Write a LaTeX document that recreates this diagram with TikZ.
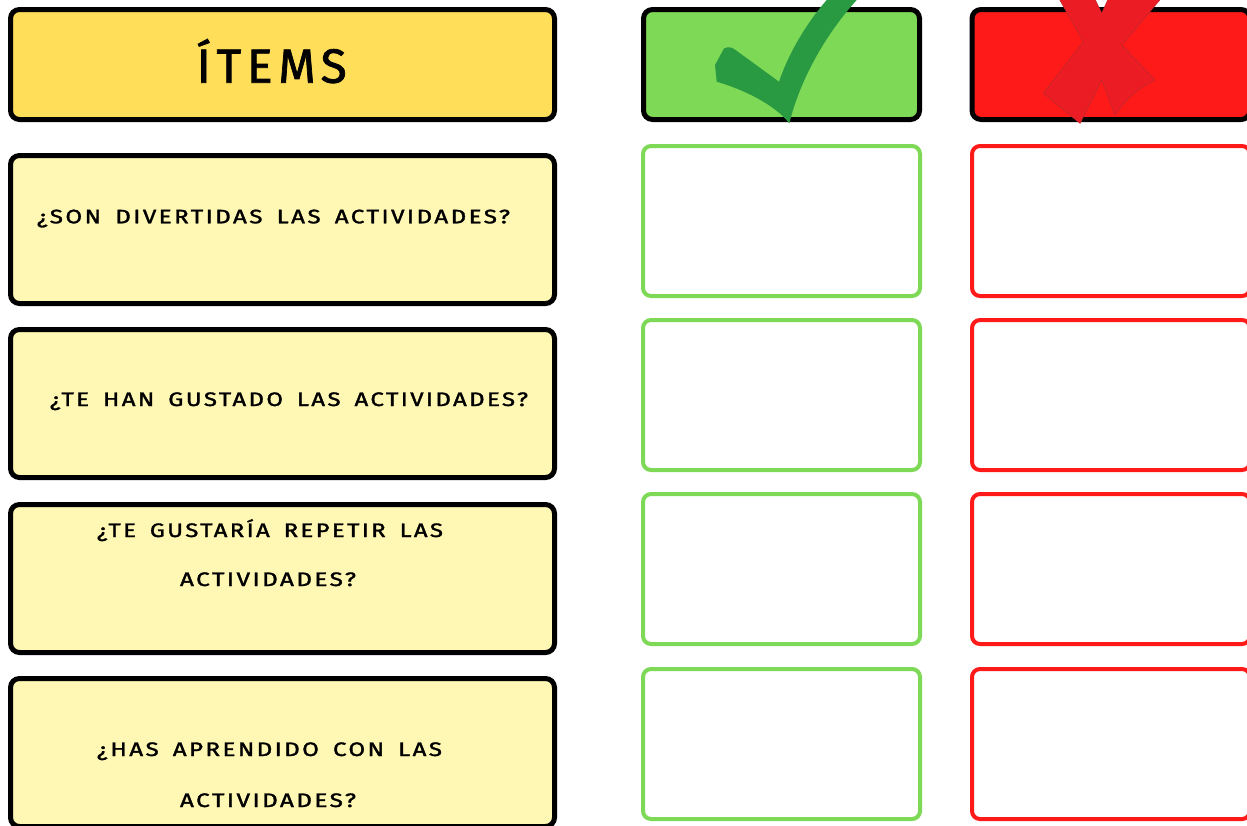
\documentclass[tikz,border=0pt]{standalone}
\usepackage{graphicx}
\usepackage{fontspec}
\setmainfont{Fira Sans}
\newfontfamily\qfont{Fira Sans}[LetterSpace=10,WordSpace=1.6,FakeBold=1.5]
\newfontfamily\hfont{Fira Sans}[LetterSpace=12,FakeBold=1.5]
\definecolor{hdr}{HTML}{FFDE59}
\definecolor{qfill}{HTML}{FFF7B4}
\definecolor{grn}{HTML}{7ED957}
\definecolor{redc}{HTML}{FF1A1A}
\definecolor{chk}{HTML}{2A9A42}
\definecolor{xred}{HTML}{EC1C24}
\definecolor{xline}{HTML}{C1272D}
\newcommand\fitq[2]{\resizebox{#1}{\height}{\fontsize{19.5}{20}\qfont #2}}
\begin{document}
\begin{tikzpicture}[x=1pt,y=-1pt,
  hbox/.style={draw=black,line width=5pt,rounded corners=9pt,inner sep=0pt,outer sep=0pt},
  qbox/.style={hbox,fill=qfill,minimum width=544pt,minimum height=148pt},
  gbox/.style={draw=grn,line width=4pt,rounded corners=8pt,fill=white,minimum width=277pt,minimum height=150pt,inner sep=0pt,outer sep=0pt},
  rbox/.style={gbox,draw=redc,minimum width=278pt},
  qtext/.style={anchor=base,inner sep=0pt,outer sep=0pt,text=black}]
\useasboundingbox (0,0) rectangle (1247,825);
\clip (0,0) rectangle (1247,825);
\fill[white] (0,0) rectangle (1247,825);
% header row
\node[hbox,fill=hdr,minimum width=544pt,minimum height=110pt] (items) at (282.5,64.5) {};
\node[qtext] (itemst) at (271.7,82.7) {\resizebox{150pt}{\height}{\fontsize{48}{48}\hfont ÍTEMS}};
\node[hbox,fill=grn,minimum width=276pt,minimum height=110pt] (yes) at (781.5,64.5) {};
\node[hbox,fill=redc,minimum width=278pt,minimum height=110pt] (no) at (1111,64.5) {};
% check mark
\fill[chk] (789.3,123.3) .. controls (775,105) and (745,90) .. (716.7,81.7)
  -- (715,65) -- (724,48.5) .. controls (728,46.5) and (732,47) .. (735.5,50)
  -- (779,81.7) .. controls (788,55) and (805,25) .. (826.7,0)
  -- (835,-10) -- (868,-10) -- (856.7,0)
  .. controls (825,35) and (800,80) .. (789.3,123.3) -- cycle;
% cross
\filldraw[fill=xred,draw=xline,line width=0.6pt] (1057,-5) -- (1083.3,41.7) -- (1043.3,93.3)
  -- (1080,123.3) -- (1101.7,80) -- (1115,115)
  .. controls (1125,100) and (1138,88) .. (1155,80)
  -- (1121.7,45) -- (1164,-5) -- (1110,-5) -- (1101.7,13.3) -- (1093,-5) -- cycle;
% question boxes
\node[qbox] (q1) at (282.5,229.5) {};
\node[qbox] (q2) at (282.5,403.5) {};
\node[qbox] (q3) at (282.5,578.5) {};
\node[qbox] (q4) at (282.5,752.5) {};
% answer boxes
\node[gbox] (g1) at (781.5,221) {};
\node[gbox] (g2) at (781.5,395) {};
\node[gbox] (g3) at (781.5,569) {};
\node[gbox] (g4) at (781.5,744) {};
\node[rbox] (r1) at (1111,221) {};
\node[rbox] (r2) at (1111,395) {};
\node[rbox] (r3) at (1111,569) {};
\node[rbox] (r4) at (1111,744) {};
% texts
\node[qtext] (t1) at (273.5,223.3) {\fitq{473pt}{¿SON DIVERTIDAS LAS ACTIVIDADES?}};
\node[qtext] (t2) at (289,406) {\fitq{478pt}{¿TE HAN GUSTADO LAS ACTIVIDADES?}};
\node[qtext] (t3a) at (270,537) {\fitq{346pt}{¿TE GUSTARÍA REPETIR LAS}};
\node[qtext] (t3b) at (268,586) {\fitq{176pt}{ACTIVIDADES?}};
\node[qtext] (t4a) at (269.5,756) {\fitq{345pt}{¿HAS APRENDIDO CON LAS}};
\node[qtext] (t4b) at (268,807) {\fitq{176pt}{ACTIVIDADES?}};
\end{tikzpicture}
\end{document}
